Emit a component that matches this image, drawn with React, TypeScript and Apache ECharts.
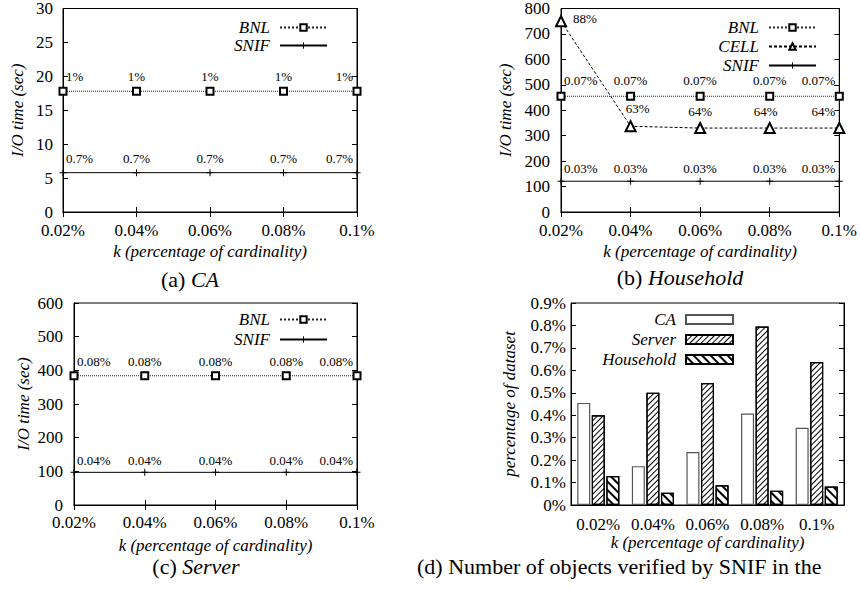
import React, { useEffect, useRef } from 'react';
import * as echarts from 'echarts';

const kLabels = ['0.02%', '0.04%', '0.06%', '0.08%', '0.1%'];

// (a) CA
const caBNL = [17.8, 17.8, 17.8, 17.8, 17.8];
const caSNIF = [5.8, 5.8, 5.8, 5.8, 5.8];
const caBNLPct = ['1%', '1%', '1%', '1%', '1%'];
const caSNIFPct = ['0.7%', '0.7%', '0.7%', '0.7%', '0.7%'];

// (b) Household
const hhBNL = [455, 455, 455, 455, 455];
const hhCELL = [750, 337, 330, 330, 330];
const hhSNIF = [121, 121, 121, 121, 121];
const hhBNLPct = ['0.07%', '0.07%', '0.07%', '0.07%', '0.07%'];
const hhCELLPct = ['88%', '63%', '64%', '64%', '64%'];
const hhSNIFPct = ['0.03%', '0.03%', '0.03%', '0.03%', '0.03%'];

// (c) Server
const srvBNL = [384, 384, 384, 384, 384];
const srvSNIF = [97, 97, 97, 97, 97];
const srvBNLPct = ['0.08%', '0.08%', '0.08%', '0.08%', '0.08%'];
const srvSNIFPct = ['0.04%', '0.04%', '0.04%', '0.04%', '0.04%'];

// (d) objects verified by SNIF (percentage of dataset)
const verCA = [0.455, 0.173, 0.236, 0.408, 0.344];
const verServer = [0.4, 0.5, 0.543, 0.795, 0.637];
const verHousehold = [0.129, 0.055, 0.088, 0.064, 0.082];

const FONT = 'Liberation Serif';
const PLUS = 'path://M3,0 L4,0 L4,3 L7,3 L7,4 L4,4 L4,7 L3,7 L3,4 L0,4 L0,3 L3,3 Z';

function xAxesFor(grid: number, boundaryGap: boolean, labelMargin: number, nameGap: number) {
  return [
    {
      type: 'category', gridIndex: grid, data: kLabels, boundaryGap, position: 'bottom',
      axisLine: { lineStyle: { color: '#000', width: 1 } },
      axisTick: { inside: true, length: 5, alignWithLabel: true, lineStyle: { color: '#000' } },
      axisLabel: { color: '#000', fontFamily: FONT, fontSize: 17, lineHeight: 15, margin: labelMargin, interval: 0 },
      name: 'k (percentage of cardinality)', nameLocation: 'middle', nameGap,
      nameTextStyle: { color: '#000', fontFamily: FONT, fontSize: 17, fontStyle: 'italic', lineHeight: 16 },
      splitLine: { show: false },
    },
    {
      type: 'category', gridIndex: grid, data: kLabels, boundaryGap, position: 'top',
      axisLine: { lineStyle: { color: '#000', width: 1 } },
      axisTick: { inside: true, length: 5, alignWithLabel: true, lineStyle: { color: '#000' } },
      axisLabel: { show: false },
      splitLine: { show: false },
    },
  ];
}

function yAxesFor(grid: number, max: number, interval: number, nameGap: number, name: string,
  fmt: (v: number) => string, labelMargin: number) {
  return [
    {
      type: 'value', gridIndex: grid, min: 0, max, interval, position: 'left',
      axisLine: { show: true, lineStyle: { color: '#000', width: 1 } },
      axisTick: { show: true, inside: true, length: 5, lineStyle: { color: '#000' } },
      axisLabel: { color: '#000', fontFamily: FONT, fontSize: 17, lineHeight: 14, margin: labelMargin, formatter: fmt },
      name, nameLocation: 'middle', nameGap, nameRotate: 90,
      nameTextStyle: { color: '#000', fontFamily: FONT, fontSize: 17, fontStyle: 'italic' },
      splitLine: { show: false },
    },
    {
      type: 'value', gridIndex: grid, min: 0, max, interval, position: 'right',
      axisLine: { show: true, lineStyle: { color: '#000', width: 1 } },
      axisTick: { show: true, inside: true, length: 5, lineStyle: { color: '#000' } },
      axisLabel: { show: false },
      splitLine: { show: false },
    },
  ];
}

type LabelTweak = { [i: number]: any };

function lineData(vals: number[], labels: string[], dist: number, tweaks: LabelTweak = {}) {
  const n = vals.length;
  return vals.map((v, i) => {
    let lab: any = { formatter: labels[i], distance: dist };
    if (i === 0) lab = { ...lab, align: 'left', offset: [3, 0] };
    if (i === n - 1) lab = { ...lab, align: 'right', offset: [-4, 0] };
    if (tweaks[i]) lab = { ...lab, ...tweaks[i] };
    return { value: v, label: lab };
  });
}

const labelBase = { show: true, position: 'top', color: '#000', fontFamily: FONT, fontSize: 13 };

function bnl(x: number, y: number, vals: number[], labels: string[], dist: number) {
  return {
    name: 'BNL', type: 'line', xAxisIndex: x, yAxisIndex: y, clip: false,
    data: lineData(vals, labels, dist),
    symbol: 'emptyRect', symbolSize: 7,
    lineStyle: { type: 'dotted', width: 1, color: '#222' },
    itemStyle: { color: '#000', borderColor: '#000', borderWidth: 1 },
    label: labelBase,
  };
}

function snif(x: number, y: number, vals: number[], labels: string[], dist: number) {
  return {
    name: 'SNIF', type: 'line', xAxisIndex: x, yAxisIndex: y, clip: false,
    data: lineData(vals, labels, dist),
    symbol: PLUS, symbolSize: 7,
    lineStyle: { type: 'solid', width: 1, color: '#000' },
    itemStyle: { color: '#000', borderWidth: 0 },
    label: labelBase,
  };
}

const legendText = {
  color: '#000', fontFamily: FONT, fontSize: 17, fontStyle: 'italic', lineHeight: 16, padding: [0, 5, 0, 0],
};

function pctFmt(v: number) {
  return v === 0 ? '0%' : v.toFixed(1) + '%';
}

const App: React.FC = () => {
  const ref = useRef<HTMLDivElement>(null);
  useEffect(() => {
    if (!ref.current) return;
    const chart = echarts.init(ref.current, undefined, { renderer: 'svg' });
    const gridStyle = { show: true, borderColor: '#000', borderWidth: 1, backgroundColor: 'transparent', containLabel: false };
    const rich = {
      n: { fontSize: 22, lineHeight: 20, fontFamily: FONT, fill: '#000' },
      i: { fontSize: 22, lineHeight: 20, fontFamily: FONT, fontStyle: 'italic', fill: '#000' },
    };
    const option: any = {
      animation: false,
      backgroundColor: '#fff',
      textStyle: { fontFamily: FONT },
      grid: [
        { left: 63, top: 8, width: 294, height: 204, ...gridStyle },
        { left: 561, top: 8, width: 283, height: 204, ...gridStyle },
        { left: 74, top: 303, width: 283, height: 202, ...gridStyle },
        { left: 571, top: 303, width: 273, height: 202, ...gridStyle },
      ],
      xAxis: [
        ...xAxesFor(0, false, 11, 31),
        ...xAxesFor(1, false, 11, 31),
        ...xAxesFor(2, false, 10, 32),
        ...xAxesFor(3, true, 12, 29),
      ],
      yAxis: [
        ...yAxesFor(0, 30, 5, 37, 'I/O time (sec)', (v) => String(v), 10),
        ...yAxesFor(1, 800, 100, 47, 'I/O time (sec)', (v) => String(v), 11),
        ...yAxesFor(2, 600, 100, 42, 'I/O time (sec)', (v) => String(v), 11),
        ...yAxesFor(3, 0.9, 0.1, 53, 'percentage of dataset', pctFmt, 5),
      ],
      legend: [
        {
          data: ['BNL', 'SNIF'], orient: 'vertical', align: 'right', right: 527, top: 14,
          itemWidth: 47, itemHeight: 8, itemGap: 1, textStyle: legendText, selectedMode: false,
        },
        {
          data: ['BNL', 'CELL', 'SNIF'], orient: 'vertical', align: 'right', right: 38, top: 14,
          itemWidth: 47, itemHeight: 8, itemGap: 2, textStyle: legendText, selectedMode: false,
        },
        {
          data: ['BNL', 'SNIF'], orient: 'vertical', align: 'right', right: 527, top: 306,
          itemWidth: 47, itemHeight: 8, itemGap: 3, textStyle: legendText, selectedMode: false,
        },
        {
          data: ['CA', 'Server', 'Household'], orient: 'vertical', align: 'right', right: 121, top: 306,
          itemWidth: 47, itemHeight: 9, itemGap: 3, icon: 'rect', textStyle: legendText, selectedMode: false,
        },
      ],
      series: [
        bnl(0, 0, caBNL, caBNLPct, 4),
        snif(0, 0, caSNIF, caSNIFPct, 4),
        bnl(2, 2, hhBNL, hhBNLPct, 5),
        {
          name: 'CELL', type: 'line', xAxisIndex: 2, yAxisIndex: 2, clip: false,
          data: lineData(hhCELL, hhCELLPct, 4, {
            0: { position: 'right', align: 'left', distance: 6, offset: [0, -3] },
            1: { offset: [7, 0], distance: 5 },
            3: { offset: [-4, 0] },
          }),
          symbol: 'emptyTriangle', symbolSize: 10,
          lineStyle: { type: [3, 2], width: 1, color: '#000' },
          itemStyle: { color: '#000', borderColor: '#000', borderWidth: 1 },
          label: labelBase,
        },
        snif(2, 2, hhSNIF, hhSNIFPct, 3),
        bnl(4, 4, srvBNL, srvBNLPct, 3),
        snif(4, 4, srvSNIF, srvSNIFPct, 2),
        {
          name: 'CA', type: 'bar', xAxisIndex: 6, yAxisIndex: 6, data: verCA,
          barWidth: 13, barGap: '12%',
          itemStyle: { color: '#fff', borderColor: '#555', borderWidth: 1.2 },
        },
        {
          name: 'Server', type: 'bar', xAxisIndex: 6, yAxisIndex: 6, data: verServer,
          barWidth: 13, barGap: '12%',
          itemStyle: {
            color: '#fff', borderColor: '#000', borderWidth: 1.2,
            decal: { symbol: 'rect', symbolSize: 1, color: '#000', backgroundColor: '#fff', dashArrayX: [1, 0], dashArrayY: [1, 3], rotation: -Math.PI / 4 },
          },
        },
        {
          name: 'Household', type: 'bar', xAxisIndex: 6, yAxisIndex: 6, data: verHousehold,
          barWidth: 13, barGap: '12%',
          itemStyle: {
            color: '#fff', borderColor: '#000', borderWidth: 1.2,
            decal: { symbol: 'rect', symbolSize: 1, color: '#000', backgroundColor: '#fff', dashArrayX: [1, 0], dashArrayY: [1.3, 4], rotation: Math.PI / 4 },
          },
        },
      ],
      graphic: [
        {
          type: 'text', x: 190, y: 279,
          style: { text: '{n|(a) }{i|CA}', align: 'center', verticalAlign: 'middle', fill: '#000', rich },
        },
        {
          type: 'text', x: 680, y: 277,
          style: { text: '{n|(b) }{i|Household}', align: 'center', verticalAlign: 'middle', fill: '#000', rich },
        },
        {
          type: 'text', x: 196, y: 566,
          style: { text: '{n|(c) }{i|Server}', align: 'center', verticalAlign: 'middle', fill: '#000', rich },
        },
        {
          type: 'text', x: 417, y: 566,
          style: {
            text: '(d) Number of objects verified by SNIF in the', align: 'left', verticalAlign: 'middle',
            fill: '#000', fontSize: 22, lineHeight: 20, fontFamily: FONT,
          },
        },
      ],
    };
    chart.setOption(option);
    return () => chart.dispose();
  }, []);
  return <div ref={ref} style={{ position: 'absolute', left: 0, top: 0, width: 860, height: 589 }} />;
};

export default App;
